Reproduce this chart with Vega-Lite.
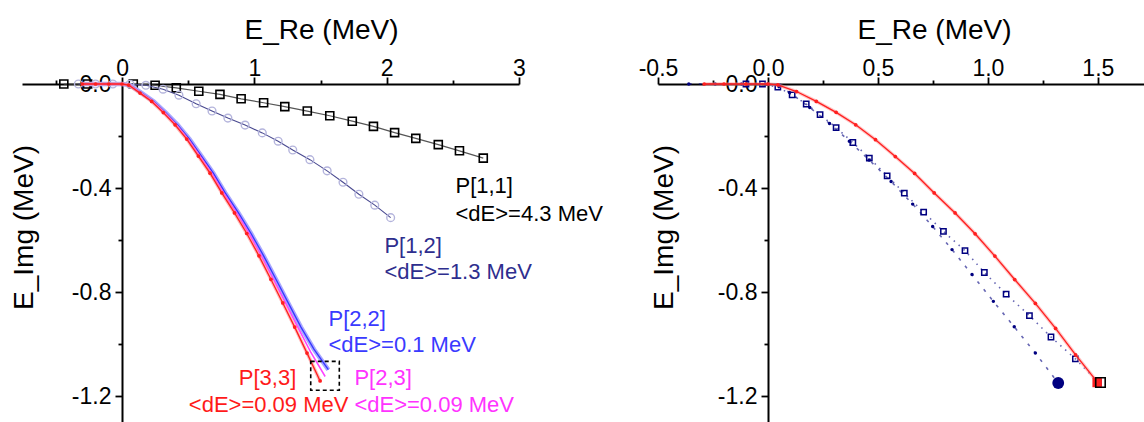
{
  "$schema": "https://vega.github.io/schema/vega-lite/v6.json",
  "autosize": {"type": "pad"},
  "padding": {"left": 10, "top": 16, "right": 0, "bottom": 0},
  "background": "white",
  "bounds": "flush",
  "spacing": 139,
  "config": {
    "view": {"stroke": null},
    "font": "Liberation Sans",
    "axis": {
      "grid": false, "domainColor": "#000000", "domainWidth": 2, "tickColor": "#000000", "tickWidth": 1.8,
      "labelFont": "Liberation Sans", "labelFontSize": 23, "labelColor": "#000000",
      "titleFont": "Liberation Sans", "titleFontSize": 28, "titleFontWeight": "normal", "titleColor": "#000000",
      "labelFlush": false, "labelOverlap": false
    }
  },
  "datasets": {
    "L": [
      {"s": "P11", "x": -0.44, "y": 0}, {"s": "P11", "x": -0.26, "y": 0}, {"s": "P11", "x": 0.085, "y": 0},
      {"s": "P11", "x": 0.25, "y": -0.005}, {"s": "P11", "x": 0.41, "y": -0.015}, {"s": "P11", "x": 0.58, "y": -0.028},
      {"s": "P11", "x": 0.74, "y": -0.04}, {"s": "P11", "x": 0.9, "y": -0.057}, {"s": "P11", "x": 1.07, "y": -0.072},
      {"s": "P11", "x": 1.23, "y": -0.087}, {"s": "P11", "x": 1.4, "y": -0.104}, {"s": "P11", "x": 1.57, "y": -0.122},
      {"s": "P11", "x": 1.74, "y": -0.143}, {"s": "P11", "x": 1.9, "y": -0.163}, {"s": "P11", "x": 2.06, "y": -0.187},
      {"s": "P11", "x": 2.22, "y": -0.209}, {"s": "P11", "x": 2.39, "y": -0.233}, {"s": "P11", "x": 2.55, "y": -0.257},
      {"s": "P11", "x": 2.73, "y": -0.285},

      {"s": "P12", "x": -0.33, "y": 0}, {"s": "P12", "x": -0.2, "y": 0}, {"s": "P12", "x": -0.07, "y": 0},
      {"s": "P12", "x": 0.06, "y": -0.001}, {"s": "P12", "x": 0.18, "y": -0.005}, {"s": "P12", "x": 0.31, "y": -0.02},
      {"s": "P12", "x": 0.43, "y": -0.043}, {"s": "P12", "x": 0.56, "y": -0.076}, {"s": "P12", "x": 0.68, "y": -0.104},
      {"s": "P12", "x": 0.8, "y": -0.131}, {"s": "P12", "x": 0.93, "y": -0.158}, {"s": "P12", "x": 1.06, "y": -0.188},
      {"s": "P12", "x": 1.18, "y": -0.22}, {"s": "P12", "x": 1.29, "y": -0.254}, {"s": "P12", "x": 1.42, "y": -0.291},
      {"s": "P12", "x": 1.55, "y": -0.334}, {"s": "P12", "x": 1.67, "y": -0.378}, {"s": "P12", "x": 1.79, "y": -0.424},
      {"s": "P12", "x": 1.91, "y": -0.466}, {"s": "P12", "x": 2.03, "y": -0.514},

      {"s": "P22", "x": -0.3, "y": 0}, {"s": "P22", "x": 0, "y": 0}, {"s": "P22", "x": 0.06, "y": -0.004},
      {"s": "P22", "x": 0.15, "y": -0.035}, {"s": "P22", "x": 0.24, "y": -0.067}, {"s": "P22", "x": 0.33, "y": -0.11},
      {"s": "P22", "x": 0.42, "y": -0.157}, {"s": "P22", "x": 0.51, "y": -0.212}, {"s": "P22", "x": 0.6, "y": -0.277},
      {"s": "P22", "x": 0.69, "y": -0.343}, {"s": "P22", "x": 0.78, "y": -0.419}, {"s": "P22", "x": 0.88, "y": -0.496},
      {"s": "P22", "x": 0.975, "y": -0.575}, {"s": "P22", "x": 1.07, "y": -0.661}, {"s": "P22", "x": 1.163, "y": -0.751},
      {"s": "P22", "x": 1.256, "y": -0.842}, {"s": "P22", "x": 1.352, "y": -0.935}, {"s": "P22", "x": 1.45, "y": -1.02},
      {"s": "P22", "x": 1.559, "y": -1.099},

      {"s": "P23", "x": -0.3, "y": 0}, {"s": "P23", "x": 0, "y": 0}, {"s": "P23", "x": 0.055, "y": -0.004},
      {"s": "P23", "x": 0.143, "y": -0.035}, {"s": "P23", "x": 0.232, "y": -0.067}, {"s": "P23", "x": 0.321, "y": -0.11},
      {"s": "P23", "x": 0.41, "y": -0.157}, {"s": "P23", "x": 0.5, "y": -0.212}, {"s": "P23", "x": 0.588, "y": -0.277},
      {"s": "P23", "x": 0.677, "y": -0.343}, {"s": "P23", "x": 0.767, "y": -0.419}, {"s": "P23", "x": 0.865, "y": -0.496},
      {"s": "P23", "x": 0.959, "y": -0.575}, {"s": "P23", "x": 1.052, "y": -0.661}, {"s": "P23", "x": 1.144, "y": -0.751},
      {"s": "P23", "x": 1.235, "y": -0.842}, {"s": "P23", "x": 1.328, "y": -0.935}, {"s": "P23", "x": 1.425, "y": -1.03},
      {"s": "P23", "x": 1.535, "y": -1.125},

      {"s": "P33", "x": -0.3, "y": 0}, {"s": "P33", "x": -0.2, "y": 0}, {"s": "P33", "x": -0.1, "y": 0},
      {"s": "P33", "x": 0, "y": 0}, {"s": "P33", "x": 0.05, "y": -0.004}, {"s": "P33", "x": 0.136, "y": -0.035},
      {"s": "P33", "x": 0.224, "y": -0.067}, {"s": "P33", "x": 0.312, "y": -0.11}, {"s": "P33", "x": 0.401, "y": -0.157},
      {"s": "P33", "x": 0.489, "y": -0.212}, {"s": "P33", "x": 0.577, "y": -0.277}, {"s": "P33", "x": 0.665, "y": -0.343},
      {"s": "P33", "x": 0.754, "y": -0.419}, {"s": "P33", "x": 0.85, "y": -0.496}, {"s": "P33", "x": 0.943, "y": -0.575},
      {"s": "P33", "x": 1.035, "y": -0.661}, {"s": "P33", "x": 1.125, "y": -0.751}, {"s": "P33", "x": 1.215, "y": -0.842},
      {"s": "P33", "x": 1.305, "y": -0.935}, {"s": "P33", "x": 1.398, "y": -1.035}, {"s": "P33", "x": 1.497, "y": -1.142}
    ],
    "R": [
      {"s": "RED", "x": -0.29, "y": 0}, {"s": "RED", "x": -0.2, "y": 0}, {"s": "RED", "x": -0.1, "y": 0},
      {"s": "RED", "x": 0, "y": 0}, {"s": "RED", "x": 0.045, "y": -0.003}, {"s": "RED", "x": 0.13, "y": -0.029},
      {"s": "RED", "x": 0.22, "y": -0.067}, {"s": "RED", "x": 0.31, "y": -0.109}, {"s": "RED", "x": 0.399, "y": -0.157},
      {"s": "RED", "x": 0.489, "y": -0.214}, {"s": "RED", "x": 0.579, "y": -0.279}, {"s": "RED", "x": 0.667, "y": -0.344},
      {"s": "RED", "x": 0.756, "y": -0.419}, {"s": "RED", "x": 0.851, "y": -0.496}, {"s": "RED", "x": 0.942, "y": -0.576},
      {"s": "RED", "x": 1.032, "y": -0.662}, {"s": "RED", "x": 1.122, "y": -0.752}, {"s": "RED", "x": 1.216, "y": -0.844},
      {"s": "RED", "x": 1.308, "y": -0.94}, {"s": "RED", "x": 1.399, "y": -1.042}, {"s": "RED", "x": 1.497, "y": -1.146},

      {"s": "N1", "x": -0.36, "y": 0}, {"s": "N1", "x": -0.24, "y": 0}, {"s": "N1", "x": -0.12, "y": 0},
      {"s": "N1", "x": 0, "y": 0}, {"s": "N1", "x": 0.05, "y": -0.01}, {"s": "N1", "x": 0.098, "y": -0.033},
      {"s": "N1", "x": 0.19, "y": -0.09}, {"s": "N1", "x": 0.28, "y": -0.152}, {"s": "N1", "x": 0.37, "y": -0.22},
      {"s": "N1", "x": 0.46, "y": -0.292}, {"s": "N1", "x": 0.56, "y": -0.375}, {"s": "N1", "x": 0.658, "y": -0.462},
      {"s": "N1", "x": 0.749, "y": -0.548}, {"s": "N1", "x": 0.837, "y": -0.637}, {"s": "N1", "x": 0.928, "y": -0.733},
      {"s": "N1", "x": 1.025, "y": -0.836}, {"s": "N1", "x": 1.12, "y": -0.934}, {"s": "N1", "x": 1.216, "y": -1.035},
      {"s": "N1", "x": 1.32, "y": -1.15},

      {"s": "N2", "x": -0.1, "y": 0}, {"s": "N2", "x": -0.025, "y": 0}, {"s": "N2", "x": 0.045, "y": -0.012},
      {"s": "N2", "x": 0.11, "y": -0.042}, {"s": "N2", "x": 0.174, "y": -0.077}, {"s": "N2", "x": 0.237, "y": -0.118},
      {"s": "N2", "x": 0.31, "y": -0.168}, {"s": "N2", "x": 0.386, "y": -0.225}, {"s": "N2", "x": 0.461, "y": -0.285},
      {"s": "N2", "x": 0.542, "y": -0.353}, {"s": "N2", "x": 0.62, "y": -0.42}, {"s": "N2", "x": 0.708, "y": -0.493},
      {"s": "N2", "x": 0.798, "y": -0.567}, {"s": "N2", "x": 0.896, "y": -0.641}, {"s": "N2", "x": 0.984, "y": -0.725},
      {"s": "N2", "x": 1.083, "y": -0.808}, {"s": "N2", "x": 1.189, "y": -0.891}, {"s": "N2", "x": 1.287, "y": -0.973},
      {"s": "N2", "x": 1.398, "y": -1.057}, {"s": "N2", "x": 1.503, "y": -1.148}
    ],
    "LT": [
      {"t": "P[1,1]", "x": 2.52, "y": -0.391, "s": "k"},
      {"t": "<dE>=4.3 MeV", "x": 2.52, "y": -0.499, "s": "k"},
      {"t": "P[1,2]", "x": 1.983, "y": -0.622, "s": "n"},
      {"t": "<dE>=1.3 MeV", "x": 1.983, "y": -0.722, "s": "n"},
      {"t": "P[2,2]", "x": 1.56, "y": -0.903, "s": "b"},
      {"t": "<dE>=0.1 MeV", "x": 1.56, "y": -1.003, "s": "b"},
      {"t": "P[3,3]", "x": 1.317, "y": -1.13, "s": "r"},
      {"t": "<dE>=0.09 MeV", "x": 1.711, "y": -1.234, "s": "r"},
      {"t": "P[2,3]", "x": 1.756, "y": -1.13, "s": "m"},
      {"t": "<dE>=0.09 MeV", "x": 1.756, "y": -1.234, "s": "m"}
    ],
    "BOX": [{"x": 1.426, "x2": 1.642, "y": -1.067, "y2": -1.178}],
    "END": [
      {"s": "circ", "x": 1.32, "y": -1.15},
      {"s": "rsq", "x": 1.497, "y": -1.148},
      {"s": "bsq", "x": 1.512, "y": -1.148}
    ]
  },
  "hconcat": [
    {
      "width": 497,
      "height": 338,
      "layer": [
        {
          "data": {"name": "L"},
          "transform": [{"filter": "datum.s == 'P11'"}],
          "mark": {"type": "line", "color": "#555555", "strokeWidth": 1.2},
          "encoding": {
            "x": {"field": "x", "type": "quantitative",
              "scale": {"domain": [-0.756, 3], "nice": false, "zero": false},
              "axis": {"orient": "top", "values": [-0.5, 0, 0.5, 1, 1.5, 2, 2.5, 3],
                "labelExpr": "abs(datum.value - round(datum.value)) < 0.01 ? format(datum.value, 'd') : ''",
                "tickSize": {"condition": {"test": "abs(datum.value - round(datum.value)) > 0.01", "value": 4}, "value": 7},
                "labelBaseline": "alphabetic", "labelPadding": 2,
                "title": "E_Re (MeV)", "titleX": 299, "titleY": -46, "titleBaseline": "alphabetic", "titleAlign": "center"}},
            "y": {"field": "y", "type": "quantitative",
              "scale": {"domain": [-1.3, 0], "nice": false, "zero": false},
              "axis": {"orient": "left", "offset": -100, "values": [0, -0.2, -0.4, -0.6, -0.8, -1, -1.2],
                "labelExpr": "abs(datum.value/0.4 - round(datum.value/0.4)) < 0.01 ? replace(format(datum.value, '.1f'), '\u2212', '-') : ''",
                "tickSize": {"condition": {"test": "abs(datum.value/0.4 - round(datum.value/0.4)) > 0.01", "value": 4}, "value": 7},
                "labelPadding": 4, "labelBaseline": "middle",
                "title": "E_Img (MeV)", "titleX": -98, "titleY": 143, "titleAngle": 270, "titleBaseline": "middle", "titleAlign": "center"}}
          }
        },
        {
          "data": {"name": "L"},
          "transform": [{"filter": "datum.s == 'P11'"}],
          "mark": {"type": "point", "shape": "square", "filled": false, "color": "#000000", "strokeWidth": 1.6, "size": 64, "opacity": 1},
          "encoding": {"x": {"field": "x", "type": "quantitative"}, "y": {"field": "y", "type": "quantitative"}}
        },
        {
          "data": {"name": "L"},
          "transform": [{"filter": "datum.s == 'P12'"}],
          "mark": {"type": "line", "color": "#4a4a90", "strokeWidth": 1.1},
          "encoding": {"x": {"field": "x", "type": "quantitative"}, "y": {"field": "y", "type": "quantitative"}}
        },
        {
          "data": {"name": "L"},
          "transform": [{"filter": "datum.s == 'P12'"}],
          "mark": {"type": "point", "shape": "circle", "filled": false, "color": "#b4b4dc", "strokeWidth": 1.4, "size": 60, "opacity": 1},
          "encoding": {"x": {"field": "x", "type": "quantitative"}, "y": {"field": "y", "type": "quantitative"}}
        },
        {
          "data": {"name": "L"},
          "transform": [{"filter": "datum.s == 'P22'"}],
          "mark": {"type": "line", "color": "#a8a8ff", "strokeWidth": 4.5},
          "encoding": {"x": {"field": "x", "type": "quantitative"}, "y": {"field": "y", "type": "quantitative"}}
        },
        {
          "data": {"name": "L"},
          "transform": [{"filter": "datum.s == 'P22'"}],
          "mark": {"type": "line", "color": "#3535ff", "strokeWidth": 1.3},
          "encoding": {"x": {"field": "x", "type": "quantitative"}, "y": {"field": "y", "type": "quantitative"}}
        },
        {
          "data": {"name": "L"},
          "transform": [{"filter": "datum.s == 'P23'"}],
          "mark": {"type": "line", "color": "#ff40ff", "strokeWidth": 1.5},
          "encoding": {"x": {"field": "x", "type": "quantitative"}, "y": {"field": "y", "type": "quantitative"}}
        },
        {
          "data": {"name": "L"},
          "transform": [{"filter": "datum.s == 'P33'"}],
          "mark": {"type": "line", "color": "#ff9090", "strokeWidth": 3.5, "opacity": 0.6},
          "encoding": {"x": {"field": "x", "type": "quantitative"}, "y": {"field": "y", "type": "quantitative"}}
        },
        {
          "data": {"name": "L"},
          "transform": [{"filter": "datum.s == 'P33'"}],
          "mark": {"type": "line", "color": "#ff1f1f", "strokeWidth": 1.3},
          "encoding": {"x": {"field": "x", "type": "quantitative"}, "y": {"field": "y", "type": "quantitative"}}
        },
        {
          "data": {"name": "L"},
          "transform": [{"filter": "datum.s == 'P33'"}],
          "mark": {"type": "point", "shape": "circle", "filled": true, "color": "#ff1f1f", "size": 14, "opacity": 1},
          "encoding": {"x": {"field": "x", "type": "quantitative"}, "y": {"field": "y", "type": "quantitative"}}
        },
        {
          "data": {"name": "BOX"},
          "mark": {"type": "rect", "fill": null, "fillOpacity": 0, "stroke": "#000000", "strokeWidth": 1.6, "strokeDash": [4, 3]},
          "encoding": {
            "x": {"field": "x", "type": "quantitative"}, "x2": {"field": "x2"},
            "y": {"field": "y", "type": "quantitative"}, "y2": {"field": "y2"}
          }
        },
        {
          "data": {"name": "LT"},
          "transform": [{"filter": "datum.s != 'r'"}],
          "mark": {"type": "text", "align": "left", "baseline": "middle", "font": "Liberation Sans", "fontSize": 22},
          "encoding": {
            "x": {"field": "x", "type": "quantitative"}, "y": {"field": "y", "type": "quantitative"},
            "text": {"field": "t"},
            "color": {"field": "s", "type": "nominal", "scale": {"domain": ["k", "n", "b", "r", "m"], "range": ["#000000", "#2e2e8e", "#3a3aff", "#ff1a1a", "#ff33ff"]}, "legend": null}
          }
        },
        {
          "data": {"name": "LT"},
          "transform": [{"filter": "datum.s == 'r'"}],
          "mark": {"type": "text", "align": "right", "baseline": "middle", "font": "Liberation Sans", "fontSize": 22},
          "encoding": {
            "x": {"field": "x", "type": "quantitative"}, "y": {"field": "y", "type": "quantitative"},
            "text": {"field": "t"},
            "color": {"field": "s", "type": "nominal", "scale": {"domain": ["k", "n", "b", "r", "m"], "range": ["#000000", "#2e2e8e", "#3a3aff", "#ff1a1a", "#ff33ff"]}, "legend": null}
          }
        }
      ]
    },
    {
      "width": 486,
      "height": 338,
      "layer": [
        {
          "data": {"name": "R"},
          "transform": [{"filter": "datum.s == 'N2'"}],
          "mark": {"type": "line", "color": "#000080", "strokeWidth": 1.6, "strokeDash": [1.5, 5], "opacity": 0.6},
          "encoding": {
            "x": {"field": "x", "type": "quantitative",
              "scale": {"domain": [-0.5, 1.71], "nice": false, "zero": false},
              "axis": {"orient": "top", "values": [-0.5, -0.25, 0, 0.25, 0.5, 0.75, 1, 1.25, 1.5],
                "labelExpr": "abs(datum.value*2 - round(datum.value*2)) < 0.01 ? replace(format(datum.value, '.1f'), '\u2212', '-') : ''",
                "tickSize": {"condition": {"test": "abs(datum.value*2 - round(datum.value*2)) > 0.01", "value": 4}, "value": 7},
                "labelBaseline": "alphabetic", "labelPadding": 2,
                "title": "E_Re (MeV)", "titleX": 276, "titleY": -46, "titleBaseline": "alphabetic", "titleAlign": "center"}},
            "y": {"field": "y", "type": "quantitative",
              "scale": {"domain": [-1.3, 0], "nice": false, "zero": false},
              "axis": {"orient": "left", "offset": -110, "values": [0, -0.2, -0.4, -0.6, -0.8, -1, -1.2],
                "labelExpr": "abs(datum.value/0.4 - round(datum.value/0.4)) < 0.01 ? replace(format(datum.value, '.1f'), '\u2212', '-') : ''",
                "tickSize": {"condition": {"test": "abs(datum.value/0.4 - round(datum.value/0.4)) > 0.01", "value": 4}, "value": 7},
                "labelPadding": 4, "labelBaseline": "middle",
                "title": "E_Img (MeV)", "titleX": -104, "titleY": 143, "titleAngle": 270, "titleBaseline": "middle", "titleAlign": "center"}}
          }
        },
        {
          "data": {"name": "R"},
          "transform": [{"filter": "datum.s == 'N1'"}],
          "mark": {"type": "line", "color": "#000080", "strokeWidth": 1.6, "strokeDash": [3, 7], "opacity": 0.6},
          "encoding": {"x": {"field": "x", "type": "quantitative"}, "y": {"field": "y", "type": "quantitative"}}
        },
        {
          "data": {"name": "R"},
          "transform": [{"filter": "datum.s == 'N2'"}],
          "mark": {"type": "point", "shape": "square", "filled": false, "color": "#000080", "strokeWidth": 1.5, "size": 28, "opacity": 1},
          "encoding": {"x": {"field": "x", "type": "quantitative"}, "y": {"field": "y", "type": "quantitative"}}
        },
        {
          "data": {"name": "R"},
          "transform": [{"filter": "datum.s == 'N1'"}],
          "mark": {"type": "point", "shape": "circle", "filled": true, "color": "#000080", "size": 12, "opacity": 1},
          "encoding": {"x": {"field": "x", "type": "quantitative"}, "y": {"field": "y", "type": "quantitative"}}
        },
        {
          "data": {"name": "R"},
          "transform": [{"filter": "datum.s == 'RED'"}],
          "mark": {"type": "line", "color": "#ff9090", "strokeWidth": 3.5, "opacity": 0.5},
          "encoding": {"x": {"field": "x", "type": "quantitative"}, "y": {"field": "y", "type": "quantitative"}}
        },
        {
          "data": {"name": "R"},
          "transform": [{"filter": "datum.s == 'RED'"}],
          "mark": {"type": "line", "color": "#ff1f1f", "strokeWidth": 1.3},
          "encoding": {"x": {"field": "x", "type": "quantitative"}, "y": {"field": "y", "type": "quantitative"}}
        },
        {
          "data": {"name": "R"},
          "transform": [{"filter": "datum.s == 'RED'"}],
          "mark": {"type": "point", "shape": "circle", "filled": true, "color": "#ff1f1f", "size": 14, "opacity": 1},
          "encoding": {"x": {"field": "x", "type": "quantitative"}, "y": {"field": "y", "type": "quantitative"}}
        },
        {
          "data": {"name": "END"},
          "transform": [{"filter": "datum.s == 'circ'"}],
          "mark": {"type": "point", "shape": "circle", "filled": true, "color": "#000080", "size": 140, "opacity": 1},
          "encoding": {"x": {"field": "x", "type": "quantitative"}, "y": {"field": "y", "type": "quantitative"}}
        },
        {
          "data": {"name": "END"},
          "transform": [{"filter": "datum.s == 'rsq'"}],
          "mark": {"type": "point", "shape": "square", "filled": true, "color": "#ff2020", "size": 90, "opacity": 1},
          "encoding": {"x": {"field": "x", "type": "quantitative"}, "y": {"field": "y", "type": "quantitative"}}
        },
        {
          "data": {"name": "END"},
          "transform": [{"filter": "datum.s == 'bsq'"}],
          "mark": {"type": "point", "shape": "square", "filled": false, "color": "#000000", "strokeWidth": 1.6, "size": 90, "opacity": 1},
          "encoding": {"x": {"field": "x", "type": "quantitative"}, "y": {"field": "y", "type": "quantitative"}}
        }
      ]
    }
  ]
}
